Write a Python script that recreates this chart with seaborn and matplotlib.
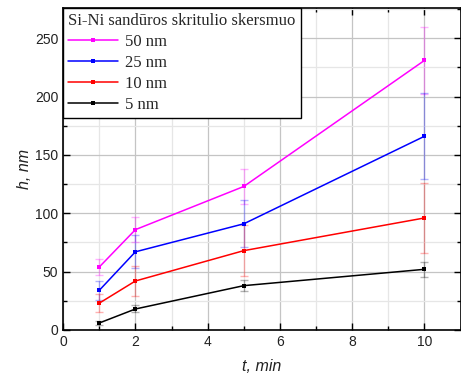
import numpy as np
import pandas as pd
import matplotlib
matplotlib.use("Agg")
import matplotlib.pyplot as plt
import seaborn as sns
from matplotlib.ticker import MultipleLocator

t_min = [1, 2, 5, 10]
series_names = ["50 nm", "25 nm", "10 nm", "5 nm"]
h_50 = [54, 86, 123, 231]
h_25 = [34, 67, 91, 166]
h_10 = [23, 42, 68, 96]
h_5 = [6, 18, 38, 52]
err_50 = [6.5, 11, 15, 29]
err_25 = [8, 14, 20, 37]
err_10 = [8, 13, 22, 30]
err_5 = [2, 3, 5, 6.5]
colors = ["#ff00ff", "#0000ff", "#ff0000", "#000000"]

values = [h_50, h_25, h_10, h_5]
errors = [err_50, err_25, err_10, err_5]

rows = []
for name, vals, errs in zip(series_names, values, errors):
    for t, v, e in zip(t_min, vals, errs):
        rows.append({"t": t, "h": v, "err": e, "series": name})
df = pd.DataFrame(rows)

sns.set_style("ticks")
plt.rcParams["font.family"] = ["Liberation Sans", "DejaVu Sans"]

fig = plt.figure(figsize=(4.61, 3.78), dpi=100)
ax = fig.add_axes([0.137, 0.127, 0.862, 0.852])

palette = dict(zip(series_names, colors))
for name in series_names:
    sub = df[df["series"] == name]
    ax.errorbar(sub["t"], sub["h"], yerr=sub["err"], fmt="none",
                ecolor=palette[name], alpha=0.3, elinewidth=1.0,
                capsize=3, capthick=1.0, zorder=2)

sns.lineplot(data=df, x="t", y="h", hue="series", hue_order=series_names,
             palette=palette, marker="s", markersize=3.2, markeredgewidth=0,
             linewidth=1.1, ax=ax, zorder=3)

ax.set_xlim(0, 11)
ax.set_ylim(0, 276)
ax.xaxis.set_major_locator(MultipleLocator(2))
ax.xaxis.set_minor_locator(MultipleLocator(1))
ax.yaxis.set_major_locator(MultipleLocator(50))
ax.yaxis.set_minor_locator(MultipleLocator(25))
ax.grid(which="major", color="#c4c4c4", linewidth=0.9)
ax.grid(which="minor", color="#e6e6e6", linewidth=0.9)
ax.set_axisbelow(True)
ax.tick_params(which="both", direction="in", top=True, right=True,
               labelsize=10, colors="#000000", labelcolor="#222222")
ax.tick_params(which="major", length=5, width=1)
ax.tick_params(which="minor", length=3, width=1)
for sp in ax.spines.values():
    sp.set_linewidth(1.2)
    sp.set_color("#000000")

ax.set_xlabel("t, min", fontsize=11.5, fontstyle="italic", color="#222222",
              labelpad=7)
ax.set_ylabel("h, nm", fontsize=11.5, fontstyle="italic", color="#222222",
              labelpad=2)

handles, labels = ax.get_legend_handles_labels()
leg = ax.legend(handles, labels, title="Si-Ni sandūros skritulio skersmuo",
                loc="upper left", bbox_to_anchor=(0, 1), borderaxespad=0,
                fancybox=False, framealpha=1, edgecolor="#000000",
                prop={"family": "Liberation Serif", "size": 12},
                handlelength=3.0, handletextpad=0.4, labelspacing=0.3,
                borderpad=0.3)
leg.get_title().set_fontfamily("Liberation Serif")
leg.get_title().set_fontsize(12)
leg._legend_box.align = "left"
leg.get_frame().set_linewidth(1.0)

fig.savefig("out.png", dpi=100)
